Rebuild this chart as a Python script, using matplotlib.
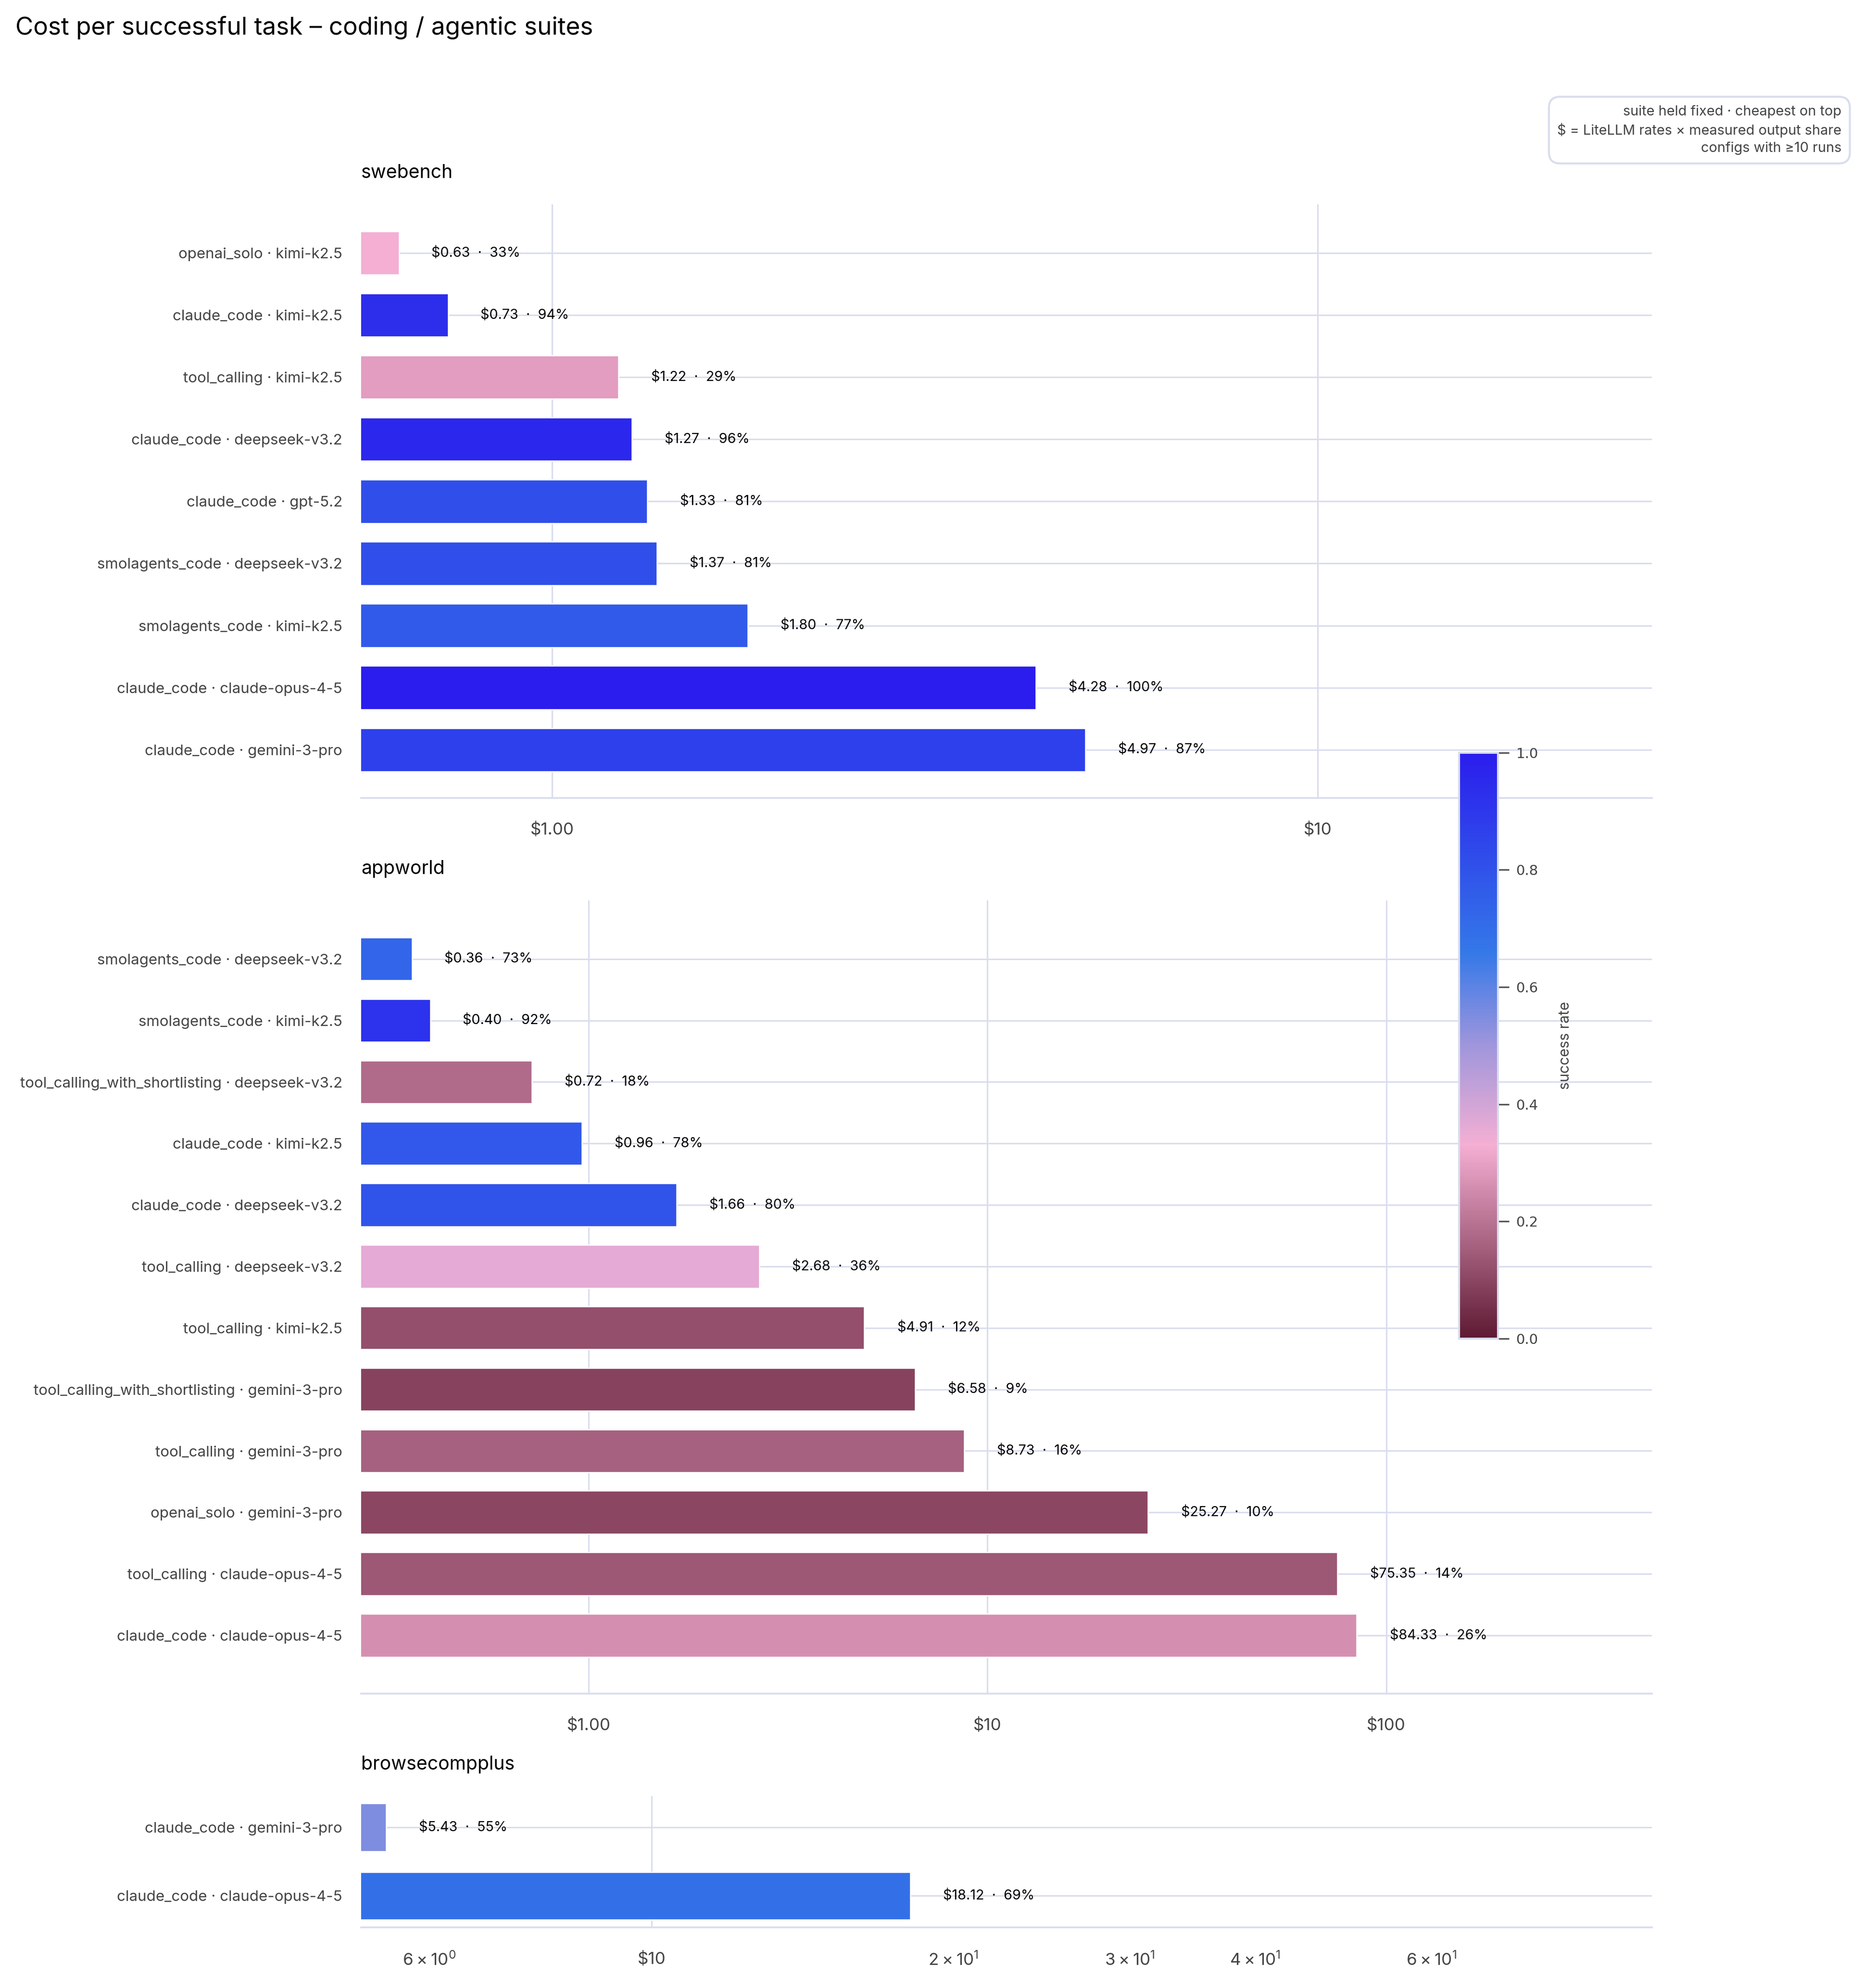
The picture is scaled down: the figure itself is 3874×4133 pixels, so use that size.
import matplotlib
matplotlib.use("Agg")
import matplotlib.pyplot as plt
from matplotlib.colors import LinearSegmentedColormap, Normalize
from matplotlib.cm import ScalarMappable
from matplotlib.ticker import FuncFormatter, NullFormatter, LogLocator, LogFormatterSciNotation

plt.rcParams['font.family'] = ['Inter', 'DejaVu Sans']

# swebench configs, cheapest on top
swe_labels = ['openai_solo · kimi-k2.5', 'claude_code · kimi-k2.5', 'tool_calling · kimi-k2.5',
              'claude_code · deepseek-v3.2', 'claude_code · gpt-5.2', 'smolagents_code · deepseek-v3.2',
              'smolagents_code · kimi-k2.5', 'claude_code · claude-opus-4-5', 'claude_code · gemini-3-pro']
swe_cost = [0.63, 0.73, 1.22, 1.27, 1.33, 1.37, 1.80, 4.28, 4.97]
swe_rate = [33, 94, 29, 96, 81, 81, 77, 100, 87]

# appworld configs
app_labels = ['smolagents_code · deepseek-v3.2', 'smolagents_code · kimi-k2.5',
              'tool_calling_with_shortlisting · deepseek-v3.2', 'claude_code · kimi-k2.5',
              'claude_code · deepseek-v3.2', 'tool_calling · deepseek-v3.2', 'tool_calling · kimi-k2.5',
              'tool_calling_with_shortlisting · gemini-3-pro', 'tool_calling · gemini-3-pro',
              'openai_solo · gemini-3-pro', 'tool_calling · claude-opus-4-5', 'claude_code · claude-opus-4-5']
app_cost = [0.36, 0.40, 0.72, 0.96, 1.66, 2.68, 4.91, 6.58, 8.73, 25.27, 75.35, 84.33]
app_rate = [73, 92, 18, 78, 80, 36, 12, 9, 16, 10, 14, 26]

# browsecompplus configs
bcp_labels = ['claude_code · gemini-3-pro', 'claude_code · claude-opus-4-5']
bcp_cost = [5.43, 18.12]
bcp_rate = [55, 69]

GRID = '#d9ddee'
GREY = '#444444'
PX = 0.63  # one px of the 1475-wide preview in points

cmap = LinearSegmentedColormap.from_list(
    'succ', [(0.0, '#5e1a32'), (0.33, '#f4afd3'), (0.5, '#a096dc'), (0.66, '#3478e8'), (1.0, '#2b1ded')])
norm = Normalize(0, 1)

fig = plt.figure(figsize=(3874 / 300, 4133 / 300), dpi=300)


def money(v, pos):
    if v < 10:
        return r'\$' + f'{v:.2f}'
    return r'\$' + f'{v:.0f}'


def draw_panel(rect, name, labels, cost, rate, xmin, ylim, minor_labels=False):
    ax = fig.add_axes(rect)
    y = list(range(len(labels)))
    colors = [cmap(norm(r / 100)) for r in rate]
    ax.barh(y, cost, left=1e-3, height=0.7, color=colors, edgecolor='white', linewidth=0.6, zorder=2)
    ax.set_xscale('log')
    ax.set_xlim(xmin, max(cost) * 5.5)
    ax.set_ylim(*ylim)
    ax.set_yticks(y)
    ax.set_yticklabels(labels)
    for yi, c, r in zip(y, cost, rate):
        ax.annotate(r'\$' + f'{c:.2f}  ·  {r}%', (c, yi), xytext=(26 * PX, 0), textcoords='offset points',
                    va='center', ha='left', fontsize=6.9, color='black', zorder=3)
    ax.xaxis.set_major_formatter(FuncFormatter(money))
    if minor_labels:
        ax.xaxis.set_minor_locator(LogLocator(base=10, subs=range(2, 10)))
        ax.xaxis.set_minor_formatter(LogFormatterSciNotation(labelOnlyBase=False, minor_thresholds=(2, 0.4)))
    else:
        ax.xaxis.set_minor_formatter(NullFormatter())
    ax.tick_params(axis='both', which='both', length=0, colors=GREY)
    ax.tick_params(axis='y', labelsize=7.5, pad=15 * PX)
    ax.tick_params(axis='x', which='both', labelsize=8.4, pad=19 * PX)
    ax.grid(True, axis='both', which='major', color=GRID, linewidth=0.75)
    ax.set_axisbelow(True)
    for side in ['top', 'right', 'left']:
        ax.spines[side].set_visible(False)
    ax.spines['bottom'].set_color(GRID)
    ax.spines['bottom'].set_linewidth(0.9)
    ax.annotate(name, (0, 1), xycoords='axes fraction', xytext=(0, 25 * PX), textcoords='offset points',
                va='center', ha='left', fontsize=9.4, color='black')
    return ax


draw_panel([0.1939, 0.5985, 0.6929, 0.2986], 'swebench', swe_labels, swe_cost, swe_rate, 0.563, (8.78, -0.78))
draw_panel([0.1939, 0.1480, 0.6929, 0.3990], 'appworld', app_labels, app_cost, app_rate, 0.269, (11.95, -0.95))
draw_panel([0.1939, 0.0305, 0.6929, 0.0661], 'browsecompplus', bcp_labels, bcp_cost, bcp_rate, 5.13, (1.46, -0.46),
           minor_labels=True)

# colour scale
cax = fig.add_axes([0.7831, 0.3266, 0.0210, 0.2948])
cb = fig.colorbar(ScalarMappable(norm=norm, cmap=cmap), cax=cax)
cb.set_ticks([0, 0.2, 0.4, 0.6, 0.8, 1.0])
cb.outline.set_edgecolor(GRID)
cb.outline.set_linewidth(1.0)
cax.tick_params(length=5.5, width=0.8, color='#555555', labelsize=7, labelcolor=GREY, pad=3.5)
for lab in cax.get_yticklabels():
    lab.set_family('DejaVu Sans')
cb.set_label('success rate', fontsize=7.3, color=GREY)
cax.yaxis.set_label_coords(2.55, 0.5)

fig.text(12 / 1475, 1 - 22 / 1574, 'Cost per successful task – coding / agentic suites',
         fontsize=12.3, ha='left', va='center', color='black')

fig.text(1458 / 1475, 1 - 103 / 1574,
         'suite held fixed · cheapest on top\n$ = LiteLLM rates × measured output share\nconfigs with ≥10 runs',
         fontsize=6.95, ha='right', va='center', color=GREY, linespacing=1.4, multialignment='right',
         bbox=dict(boxstyle='round,pad=0.6,rounding_size=0.8', fc='white', ec=GRID, lw=1.0))

fig.savefig('out.png', dpi=300)
